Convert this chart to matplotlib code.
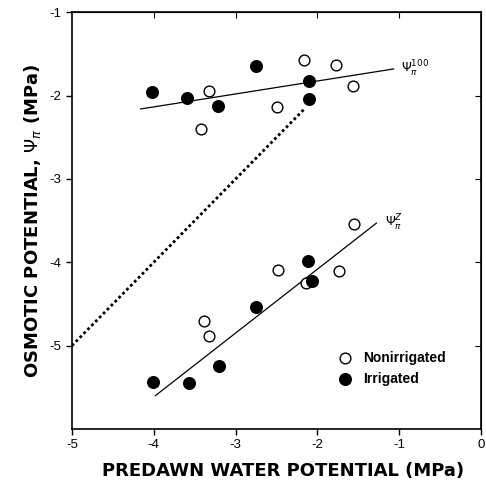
import matplotlib
matplotlib.use('Agg')
from matplotlib import pyplot
import matplotlib.ticker as plt

pyplot.rcParams['font.family'] = ['Liberation Sans', 'DejaVu Sans']

# osmotic potential at full turgor (upper cluster)
nonirr_100_x = [-2.16, -1.77, -1.56, -3.32, -3.42, -2.49]
nonirr_100_y = [-1.57, -1.63, -1.88, -1.94, -2.40, -2.14]
irr_100_x = [-4.02, -3.60, -3.21, -2.75, -2.10, -2.10]
irr_100_y = [-1.96, -2.03, -2.12, -1.65, -1.82, -2.04]

# osmotic potential at zero turgor (lower cluster)
nonirr_z_x = [-1.55, -2.48, -1.74, -2.14, -3.39, -3.33]
nonirr_z_y = [-3.54, -4.09, -4.10, -4.25, -4.70, -4.89]
irr_z_x = [-2.11, -2.07, -2.75, -3.20, -4.01, -3.57]
irr_z_y = [-3.98, -4.23, -4.54, -5.25, -5.44, -5.45]

# regression lines and the 1:1 line
fit_100_x = [-4.16, -1.07]
fit_100_y = [-2.16, -1.68]
fit_z_x = [-3.98, -1.28]
fit_z_y = [-5.60, -3.53]
one_to_one_x = [-5.0, -2.15]

fig = pyplot.figure(figsize=(4.86, 4.82), dpi=100)
ax = fig.add_axes([0.148, 0.110, 0.842, 0.8645])

ax.axis([-5, 0, -6, -1])
ax.xaxis.set_major_locator(plt.MultipleLocator(1))
ax.yaxis.set_major_locator(plt.FixedLocator([-5, -4, -3, -2, -1]))
ax.xaxis.set_major_formatter(plt.FuncFormatter(lambda v, p: '%d' % v))
ax.yaxis.set_major_formatter(plt.FuncFormatter(lambda v, p: '%d' % v))

ax.tick_params(axis='both', which='major', direction='out', length=4, width=1,
               labelsize=9.5, top=False, right=False)
sec_x = ax.secondary_xaxis('top')
sec_x.set_xticks([-4, -3, -2, -1])
sec_x.tick_params(direction='in', length=4, labeltop=False)
sec_y = ax.secondary_yaxis('right')
sec_y.set_yticks([-5, -4, -3, -2])
sec_y.tick_params(direction='in', length=4, labelright=False)
for s in ax.spines.values():
    s.set_linewidth(1.2)

ax.plot(fit_100_x, fit_100_y, c='black', linewidth=0.9)
ax.plot(fit_z_x, fit_z_y, c='black', linewidth=0.9)
ax.plot(one_to_one_x, one_to_one_x, c='black', linewidth=2, linestyle=(0, (1, 1)))

ax.scatter(nonirr_100_x + nonirr_z_x, nonirr_100_y + nonirr_z_y, s=60,
           facecolors='white', edgecolors='black', linewidths=1, zorder=3,
           label='Nonirrigated')
ax.scatter(irr_100_x + irr_z_x, irr_100_y + irr_z_y, s=70,
           c='black', zorder=3, label='Irrigated')

ax.text(-0.98, -1.68, r'$\Psi_\pi^{100}$', fontsize=9, va='center')
ax.text(-1.18, -3.53, r'$\Psi_\pi^{Z}$', fontsize=9, va='center')

ax.legend(loc='center left', bbox_to_anchor=(0.650, 0.145), frameon=False,
          borderaxespad=0, borderpad=0, handlelength=1, handletextpad=0.8,
          labelspacing=0.5, prop={'weight': 'bold', 'size': 10})

ax.set_xlabel('PREDAWN WATER POTENTIAL (MPa)', fontsize=13, fontweight='bold',
              family='DejaVu Sans')
ax.xaxis.set_label_coords(0.515, -0.080)
ax.set_ylabel(r'OSMOTIC POTENTIAL, $\Psi_\pi$ (MPa)', fontsize=13,
              fontweight='bold', family='DejaVu Sans', labelpad=5)

fig.savefig('out.png')
